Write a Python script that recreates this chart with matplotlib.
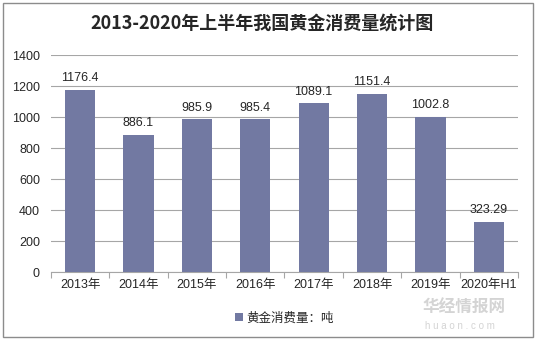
import matplotlib
matplotlib.use("Agg")
import matplotlib.pyplot as plt
from matplotlib.patches import Rectangle
from matplotlib.ticker import FixedLocator, NullFormatter

plt.rcParams['font.family'] = ['Liberation Sans', 'Noto Sans CJK SC', 'DejaVu Sans']

categories = ['2013年', '2014年', '2015年', '2016年', '2017年', '2018年', '2019年', '2020年H1']
values = [1176.4, 886.1, 985.9, 985.4, 1089.1, 1151.4, 1002.8, 323.29]
value_labels = ['1176.4', '886.1', '985.9', '985.4', '1089.1', '1151.4', '1002.8', '323.29']
series_name = '黄金消费量：吨'
title = '2013-2020年上半年我国黄金消费量统计图'
yticks = [0, 200, 400, 600, 800, 1000, 1200, 1400]

bar_color = '#7279a2'
grid_color = '#a6a6a6'
text_color = '#262626'

fig = plt.figure(figsize=(5.38, 3.41), dpi=100)
fig.patch.set_facecolor('white')
fig.add_artist(Rectangle((0.006, 0.012), 0.985, 0.978, transform=fig.transFigure,
                         fill=False, edgecolor='#8c8c8c', linewidth=1.0))

ax = fig.add_axes([0.0948, 0.2023, 0.868, 0.6364])
x = list(range(len(categories)))
bars = ax.bar(x, values, width=0.52, color=bar_color, zorder=3, label=series_name)

ax.set_xlim(-0.5, len(categories) - 0.5)
ax.set_ylim(0, 1400)
ax.set_yticks(yticks)
ax.set_yticklabels([str(v) for v in yticks], fontsize=9, color=text_color)
ax.yaxis.grid(True, color=grid_color, linewidth=0.8, zorder=0)
ax.tick_params(axis='y', length=0, pad=8)

ax.set_xticks(x)
ax.set_xticklabels(categories, fontsize=9, color=text_color)
ax.tick_params(axis='x', which='major', length=0, pad=5)
ax.xaxis.set_minor_locator(FixedLocator([i - 0.5 for i in range(len(categories) + 1)]))
ax.xaxis.set_minor_formatter(NullFormatter())
ax.tick_params(axis='x', which='minor', length=4, color=grid_color, width=0.8)

for s in ['top', 'right', 'left']:
    ax.spines[s].set_visible(False)
ax.spines['bottom'].set_color(grid_color)
ax.spines['bottom'].set_linewidth(0.8)

for b, lab in zip(bars, value_labels):
    ax.annotate(lab, (b.get_x() + b.get_width() / 2, b.get_height()),
                xytext=(0, 4), textcoords='offset points', ha='center', va='bottom',
                fontsize=9, color=text_color)

fig.text(0.487, 0.932, title, ha='center', va='center', fontsize=13, fontweight='bold',
         color=text_color, family=['Noto Sans CJK SC', 'DejaVu Sans'])

leg = ax.legend(loc='upper center', bbox_to_anchor=(0.5, -0.135), frameon=False,
                fontsize=9, handlelength=0.6, handleheight=0.6, handletextpad=0.3)
for t in leg.get_texts():
    t.set_color(text_color)

# faint site mark in the lower right corner
fig.text(0.785, 0.098, '华经情报网', fontsize=12, fontweight='bold', color='#d4d4d4',
         ha='left', va='center', family=['Noto Sans CJK SC'], zorder=0)
fig.text(0.79, 0.045, 'h u a o n . c o m', fontsize=7, color='#d4d4d4',
         ha='left', va='center', zorder=0)

fig.savefig('out.png', dpi=100)
